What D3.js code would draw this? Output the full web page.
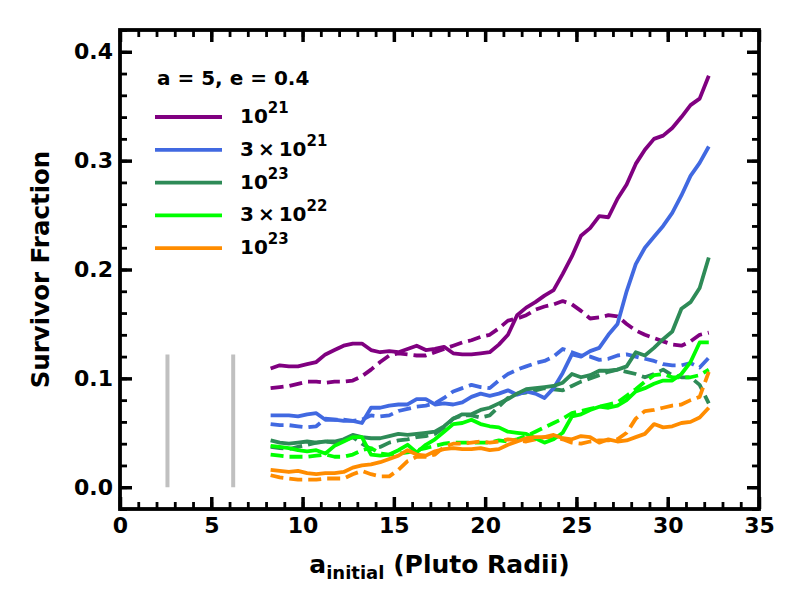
<!DOCTYPE html>
<html>
<head>
<meta charset="utf-8">
<script src="https://cdn.jsdelivr.net/npm/d3@7"></script>
<style>
  body { margin: 0; background: #fff; }
  text { font-family: "DejaVu Sans", sans-serif; font-weight: bold; }
</style>
</head>
<body>
<div id="container"></div>
<script>
// Chart dimensions and margins.
const width = 800;
const height = 600;
const marginTop = 30;
const marginRight = 41;
const marginBottom = 91;
const marginLeft = 120;

// Initial semi-major axis (Pluto radii), shared by all series.
const aInit = [8.25, 8.75, 9.25, 9.75, 10.25, 10.75, 11.25, 11.75, 12.25, 12.75,
  13.25, 13.75, 14.25, 14.75, 15.25, 15.75, 16.25, 16.75, 17.25, 17.75,
  18.25, 18.75, 19.25, 19.75, 20.25, 20.75, 21.25, 21.75, 22.25, 22.75,
  23.25, 23.75, 24.25, 24.75, 25.25, 25.75, 26.25, 26.75, 27.25, 27.75,
  28.25, 28.75, 29.25, 29.75, 30.25, 30.75, 31.25, 31.75, 32.25];

// Survivor fractions, solid = first run, dashed = second run.
const purpleSolid = [0.109, 0.112, 0.111, 0.111, 0.113, 0.115, 0.122, 0.126, 0.130, 0.132,
  0.132, 0.126, 0.124, 0.125, 0.124, 0.127, 0.130, 0.126, 0.127, 0.129,
  0.123, 0.122, 0.122, 0.123, 0.124, 0.131, 0.140, 0.158, 0.165, 0.170,
  0.176, 0.181, 0.196, 0.212, 0.231, 0.238, 0.249, 0.248, 0.265, 0.278,
  0.297, 0.310, 0.320, 0.323, 0.330, 0.340, 0.351, 0.357, 0.378];
const purpleDash = [0.091, 0.092, 0.093, 0.095, 0.097, 0.097, 0.096, 0.097, 0.097, 0.098,
  0.102, 0.108, 0.115, 0.121, 0.123, 0.122, 0.121, 0.121, 0.124, 0.127,
  0.130, 0.133, 0.135, 0.138, 0.140, 0.146, 0.153, 0.155, 0.158, 0.163,
  0.166, 0.168, 0.171, 0.168, 0.162, 0.155, 0.156, 0.158, 0.157, 0.150,
  0.144, 0.140, 0.137, 0.134, 0.131, 0.130, 0.134, 0.140, 0.142];
const blueSolid = [0.066, 0.066, 0.066, 0.065, 0.067, 0.068, 0.062, 0.062, 0.061, 0.061,
  0.059, 0.073, 0.073, 0.075, 0.076, 0.076, 0.081, 0.081, 0.076, 0.077,
  0.076, 0.078, 0.083, 0.086, 0.084, 0.086, 0.089, 0.085, 0.088, 0.086,
  0.082, 0.091, 0.105, 0.122, 0.120, 0.125, 0.128, 0.140, 0.150, 0.180,
  0.205, 0.220, 0.230, 0.240, 0.252, 0.268, 0.286, 0.298, 0.313];
const blueDash = [0.058, 0.057, 0.057, 0.056, 0.055, 0.056, 0.063, 0.062, 0.062, 0.061,
  0.062, 0.066, 0.065, 0.066, 0.070, 0.072, 0.074, 0.075, 0.077, 0.082,
  0.088, 0.091, 0.094, 0.092, 0.091, 0.098, 0.104, 0.108, 0.111, 0.114,
  0.116, 0.120, 0.127, 0.124, 0.121, 0.120, 0.117, 0.118, 0.121, 0.122,
  0.120, 0.118, 0.116, 0.113, 0.112, 0.112, 0.114, 0.110, 0.119];
const greenSolid = [0.043, 0.041, 0.040, 0.041, 0.042, 0.041, 0.042, 0.042, 0.044, 0.048,
  0.046, 0.045, 0.045, 0.047, 0.049, 0.048, 0.049, 0.050, 0.051, 0.056,
  0.063, 0.067, 0.067, 0.071, 0.073, 0.077, 0.081, 0.086, 0.090, 0.091,
  0.092, 0.093, 0.096, 0.104, 0.101, 0.103, 0.107, 0.107, 0.108, 0.111,
  0.124, 0.121, 0.128, 0.136, 0.143, 0.164, 0.170, 0.183, 0.211];
const greenDash = [0.037, 0.036, 0.035, 0.037, 0.039, 0.041, 0.042, 0.041, 0.043, 0.046,
  0.040, 0.035, 0.037, 0.041, 0.043, 0.044, 0.046, 0.047, 0.049, 0.055,
  0.063, 0.066, 0.066, 0.064, 0.066, 0.074, 0.082, 0.086, 0.087, 0.089,
  0.091, 0.090, 0.089, 0.093, 0.097, 0.100, 0.103, 0.106, 0.108, 0.106,
  0.104, 0.101, 0.104, 0.108, 0.103, 0.101, 0.101, 0.094, 0.077];
const limeSolid = [0.038, 0.037, 0.036, 0.034, 0.033, 0.034, 0.031, 0.038, 0.042, 0.046,
  0.046, 0.030, 0.029, 0.030, 0.034, 0.039, 0.032, 0.039, 0.044, 0.051,
  0.058, 0.059, 0.062, 0.058, 0.056, 0.055, 0.051, 0.050, 0.049, 0.045,
  0.041, 0.044, 0.050, 0.065, 0.067, 0.071, 0.074, 0.073, 0.075, 0.080,
  0.088, 0.091, 0.095, 0.098, 0.098, 0.104, 0.115, 0.133, 0.133];
const limeDash = [0.030, 0.029, 0.028, 0.028, 0.028, 0.029, 0.030, 0.028, 0.028, 0.030,
  0.034, 0.036, 0.031, 0.030, 0.031, 0.032, 0.034, 0.036, 0.038, 0.040,
  0.041, 0.041, 0.041, 0.041, 0.041, 0.043, 0.042, 0.044, 0.047, 0.051,
  0.055, 0.059, 0.063, 0.068, 0.070, 0.072, 0.074, 0.076, 0.078, 0.084,
  0.090, 0.097, 0.103, 0.104, 0.101, 0.101, 0.101, 0.103, 0.108];
const orangeSolid = [0.016, 0.015, 0.014, 0.015, 0.013, 0.012, 0.013, 0.013, 0.014, 0.018,
  0.020, 0.021, 0.023, 0.026, 0.029, 0.034, 0.030, 0.029, 0.033, 0.035,
  0.036, 0.035, 0.035, 0.036, 0.034, 0.035, 0.039, 0.042, 0.045, 0.046,
  0.046, 0.048, 0.045, 0.044, 0.047, 0.046, 0.041, 0.044, 0.042, 0.043,
  0.046, 0.049, 0.058, 0.055, 0.056, 0.059, 0.060, 0.064, 0.073];
const orangeDash = [0.011, 0.009, 0.008, 0.007, 0.007, 0.007, 0.008, 0.008, 0.008, 0.012,
  0.015, 0.012, 0.010, 0.010, 0.016, 0.024, 0.028, 0.028, 0.030, 0.037,
  0.040, 0.040, 0.041, 0.042, 0.041, 0.042, 0.044, 0.043, 0.042, 0.044,
  0.046, 0.046, 0.044, 0.041, 0.040, 0.042, 0.043, 0.043, 0.044, 0.050,
  0.063, 0.070, 0.071, 0.073, 0.075, 0.076, 0.080, 0.083, 0.106];

// Legend entries: [base text, exponent]
const legendLabels = [["10", "21"], ["3\u2009\u00d7\u200910", "21"], ["10", "23"], ["3\u2009\u00d7\u200910", "22"], ["10", "23"]];
const colors = ["#800080", "#4169e1", "#2e8b57", "#00ff00", "#ff8c00"];
const series = [
  [purpleSolid, purpleDash],
  [blueSolid, blueDash],
  [greenSolid, greenDash],
  [limeSolid, limeDash],
  [orangeSolid, orangeDash]
];

// Gray markers near the bottom (x positions, top value).
const markerX = [2.6, 6.2];
const markerTop = 0.122;

const xTicks = [0, 5, 10, 15, 20, 25, 30, 35];
const yTicks = [0, 0.1, 0.2, 0.3, 0.4];

const x = d3.scaleLinear().domain([0, 35]).range([marginLeft, width - marginRight]);
const y = d3.scaleLinear().domain([-0.02, 0.42]).range([height - marginBottom, marginTop]);

const svg = d3.create("svg").attr("width", width).attr("height", height);

// Gray vertical markers.
svg.append("g")
  .selectAll("line")
  .data(markerX)
  .join("line")
  .attr("x1", d => x(d)).attr("x2", d => x(d))
  .attr("y1", y(0)).attr("y2", y(markerTop))
  .attr("stroke", "#c0c0c0")
  .attr("stroke-width", 4);

// Lines.
const line = d3.line()
  .x((d, i) => x(aInit[i]))
  .y(d => y(d));

const lines = svg.append("g").attr("fill", "none").attr("stroke-width", 3.8).attr("stroke-linejoin", "round");
series.forEach(([solid, dash], k) => {
  lines.append("path").attr("d", line(dash)).attr("stroke", colors[k]).attr("stroke-dasharray", "13,6");
});
series.forEach(([solid, dash], k) => {
  lines.append("path").attr("d", line(solid)).attr("stroke", colors[k]);
});

// Axes, ticks inward on all four sides.
const xMinor = d3.range(0, 36, 1);
const yMinor = d3.range(-0.02, 0.421, 0.02);

function styleAxis(g) {
  g.select(".domain").remove();
  g.selectAll(".tick line").attr("stroke", "#000");
  g.selectAll("text").attr("font-size", 22).attr("fill", "#000");
}

svg.append("g")
  .attr("transform", `translate(0,${height - marginBottom})`)
  .call(d3.axisBottom(x).tickValues(xTicks).tickFormat(d3.format("d")).tickSizeInner(-12).tickPadding(8))
  .call(styleAxis)
  .call(g => g.selectAll(".tick line").attr("stroke-width", 3.5));
svg.append("g")
  .attr("transform", `translate(0,${height - marginBottom})`)
  .call(d3.axisBottom(x).tickValues(xMinor).tickFormat("").tickSizeInner(-7))
  .call(styleAxis)
  .call(g => g.selectAll(".tick line").attr("stroke-width", 2.8));
svg.append("g")
  .attr("transform", `translate(0,${marginTop})`)
  .call(d3.axisTop(x).tickValues(xTicks).tickFormat("").tickSizeInner(-12))
  .call(styleAxis)
  .call(g => g.selectAll(".tick line").attr("stroke-width", 3.5));
svg.append("g")
  .attr("transform", `translate(0,${marginTop})`)
  .call(d3.axisTop(x).tickValues(xMinor).tickFormat("").tickSizeInner(-7))
  .call(styleAxis)
  .call(g => g.selectAll(".tick line").attr("stroke-width", 2.8));

svg.append("g")
  .attr("transform", `translate(${marginLeft},0)`)
  .call(d3.axisLeft(y).tickValues(yTicks).tickFormat(d3.format(".1f")).tickSizeInner(-12).tickPadding(7))
  .call(styleAxis)
  .call(g => g.selectAll(".tick line").attr("stroke-width", 3.5));
svg.append("g")
  .attr("transform", `translate(${marginLeft},0)`)
  .call(d3.axisLeft(y).tickValues(yMinor).tickFormat("").tickSizeInner(-7))
  .call(styleAxis)
  .call(g => g.selectAll(".tick line").attr("stroke-width", 2.8));
svg.append("g")
  .attr("transform", `translate(${width - marginRight},0)`)
  .call(d3.axisRight(y).tickValues(yTicks).tickFormat("").tickSizeInner(-12))
  .call(styleAxis)
  .call(g => g.selectAll(".tick line").attr("stroke-width", 3.5));
svg.append("g")
  .attr("transform", `translate(${width - marginRight},0)`)
  .call(d3.axisRight(y).tickValues(yMinor).tickFormat("").tickSizeInner(-7))
  .call(styleAxis)
  .call(g => g.selectAll(".tick line").attr("stroke-width", 2.8));

// Frame.
svg.append("rect")
  .attr("x", marginLeft).attr("y", marginTop)
  .attr("width", width - marginLeft - marginRight)
  .attr("height", height - marginTop - marginBottom)
  .attr("fill", "none").attr("stroke", "#000").attr("stroke-width", 3.8);

// Axis labels.
const xl = svg.append("text")
  .attr("x", (marginLeft + width - marginRight) / 2)
  .attr("y", 573)
  .attr("text-anchor", "middle")
  .attr("font-size", 25);
xl.append("tspan").text("a");
xl.append("tspan").attr("dy", 6).attr("font-size", 18).text("initial");
xl.append("tspan").attr("dy", -6).text(" (Pluto Radii)");

svg.append("text")
  .attr("transform", `translate(49,${(marginTop + height - marginBottom) / 2}) rotate(-90)`)
  .attr("text-anchor", "middle")
  .attr("font-size", 24.5)
  .text("Survivor Fraction");

// Legend.
const legend = svg.append("g");
legend.append("text")
  .attr("x", 157).attr("y", 85)
  .attr("font-size", 20)
  .text("a = 5, e = 0.4");

legendLabels.forEach(([base, exp], i) => {
  const ly = 117 + i * 32.8;
  legend.append("line")
    .attr("x1", 155).attr("x2", 222)
    .attr("y1", ly).attr("y2", ly)
    .attr("stroke", colors[i]).attr("stroke-width", 3.8);
  const t = legend.append("text")
    .attr("x", 240).attr("y", ly + 6)
    .attr("font-size", 20);
  t.append("tspan").text(base);
  t.append("tspan").attr("dy", -10).attr("font-size", 15).text(exp);
});

document.getElementById("container").append(svg.node());
</script>
</body>
</html>
